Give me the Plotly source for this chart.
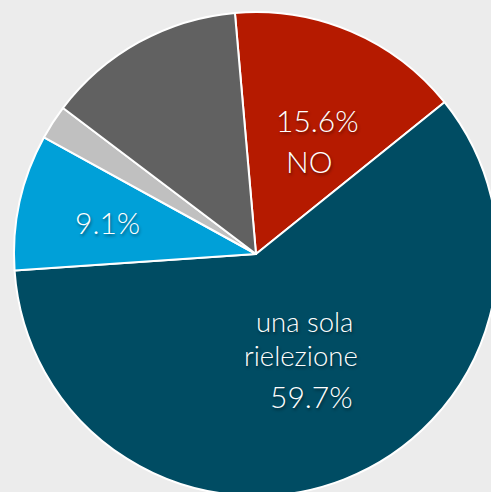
import plotly.graph_objects as go

labels = ["NO", "una sola rielezione", "Sì", "Non so", "Altro"]
values = [15.6, 59.7, 9.1, 2.3, 13.3]
colors = ["#b51a00", "#004c63", "#00a0d8", "#c0c0c0", "#616161"]
label_lines = [["15.6%", "NO"], ["una sola", "rielezione", "59.7%"], ["9.1%"]]

W, H = 500, 500
L, T, R, B = 14, 12, 2, 4
PW, PH = W - L - R, H - T - B

fig = go.Figure(go.Pie(
    labels=labels, values=values,
    textinfo="none",
    sort=False, direction="clockwise", rotation=-5,
    marker=dict(colors=colors, line=dict(color="white", width=2)),
    hoverinfo="label+percent", showlegend=False,
))

shadow = "1px 2px 3px rgba(0,0,0,0.45)"
def px(xp, yp):
    return (xp - L) / PW, 1 - (yp - T) / PH

# label placement (pixel centres) for each text line
placements = [
    [(317, 120, 30), (309, 161, 30)],
    [(304, 321, 27.5), (301, 355, 27.5), (311, 396, 30)],
    [(107, 222, 30)],
]
for lines, places in zip(label_lines, placements):
    for txt, (xp, yp, sz) in zip(lines, places):
        x, y = px(xp, yp)
        fig.add_annotation(
            x=x, y=y, xref="paper", yref="paper", text=txt, showarrow=False,
            xanchor="center", yanchor="middle",
            font=dict(family="Lato", size=sz, color="white", weight=300, shadow=shadow),
        )

fig.update_layout(
    width=W, height=H,
    margin=dict(l=L, r=R, t=T, b=B),
    paper_bgcolor="#ececec",
)
fig.write_html(
    "out.html",
    config={"displayModeBar": False},
    post_script="document.body.style.margin='0';document.body.style.overflow='hidden';"
                "document.body.style.background='#ececec';",
)
